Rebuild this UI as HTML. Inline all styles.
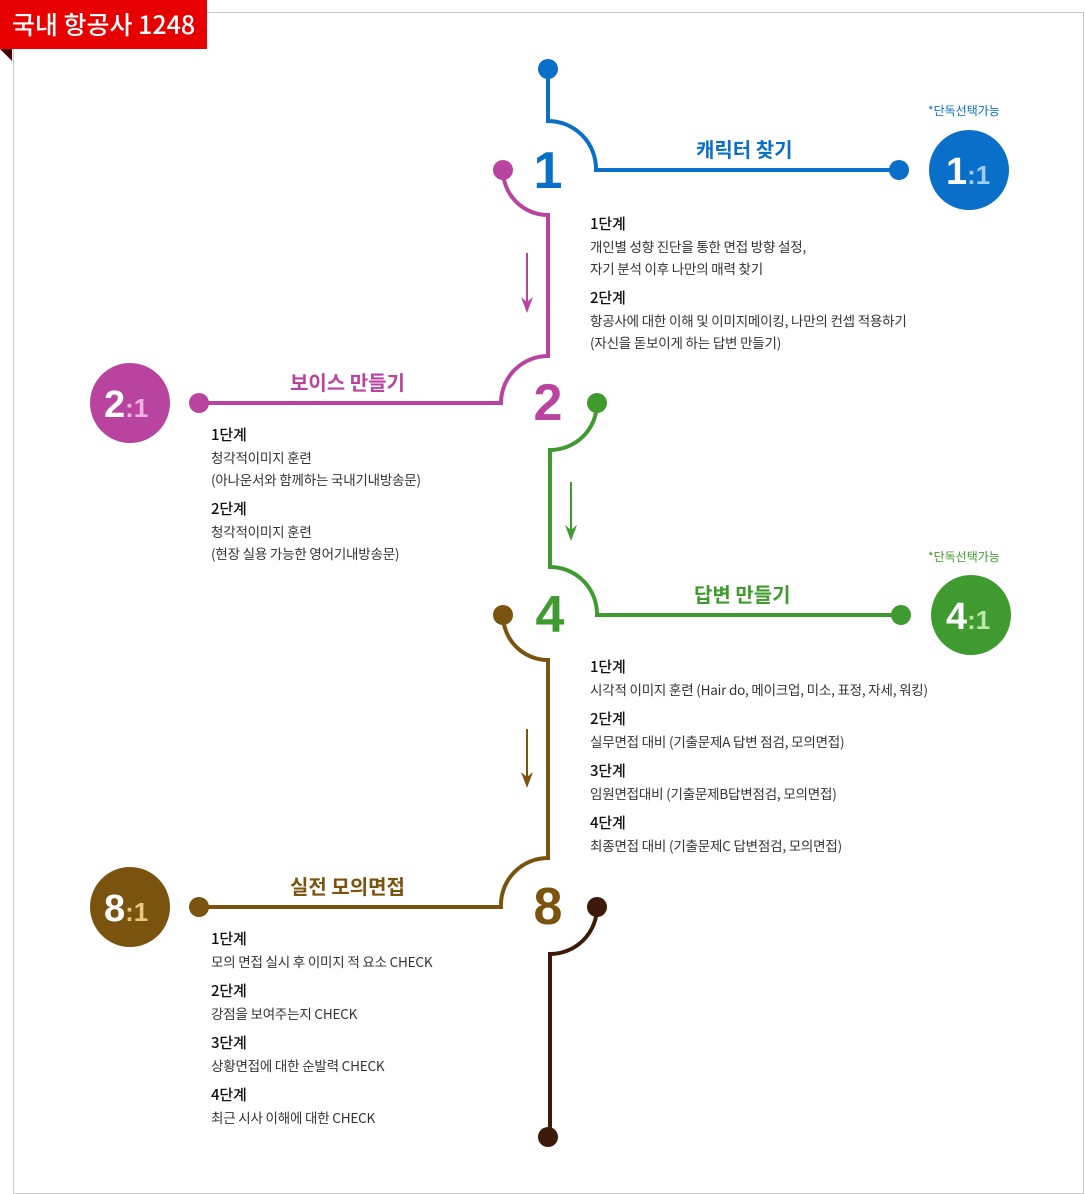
<!DOCTYPE html>
<html><head><meta charset="utf-8"><style>
body{margin:0;background:#fff;width:1085px;height:1194px;position:relative;overflow:hidden;font-family:"Liberation Sans","Noto Sans CJK KR",sans-serif}
.frame{position:absolute;left:13px;top:12px;width:1069px;height:1180px;border:1px solid #c8c8c8}
.badge{position:absolute;left:0;top:0;width:207px;height:49px;background:#e60000;color:#fff;font-size:25px;font-weight:500;line-height:49px;text-align:center;font-family:"Noto Sans CJK KR",sans-serif}
.fold{position:absolute;left:0;top:49px;width:0;height:0;border-top:12px solid #4a0000;border-left:12px solid transparent}
.t{position:absolute;font-family:"Noto Sans CJK KR",sans-serif;color:#333;font-size:13.5px;line-height:22px;letter-spacing:-0.2px;white-space:nowrap}
.t b{display:block;font-weight:500;color:#111;font-size:15px;margin-top:8px}
.t b:first-child{margin-top:0}
.lbl{position:absolute;font-family:"Noto Sans CJK KR",sans-serif;font-weight:700;font-size:20px;white-space:nowrap}
.sm{position:absolute;font-family:"Noto Sans CJK KR",sans-serif;font-size:12px;white-space:nowrap}
</style></head><body>
<div class="frame"></div>
<div class="badge">국내 항공사 1248</div>
<div class="fold"></div>
<svg width="1085" height="1194" style="position:absolute;left:0;top:0" font-family="Liberation Sans, sans-serif">
<g fill="none" stroke-width="4">
<path d="M548,69 V121 A48,48 0 0 1 596,170 H900" stroke="#0a6fc9"/>
<path d="M503,170 A45,45 0 0 0 548,215 V356 A47,47 0 0 0 501,403 H199" stroke="#b9449f"/>
<path d="M597,403 A47,47 0 0 1 550,450 V567 A47,47 0 0 1 597,615 H901" stroke="#3f9a2f"/>
<path d="M503,615 A45,45 0 0 0 548,660 V858 A47,47 0 0 0 501,907 H199" stroke="#7a530e"/>
<path d="M597,907 A47,47 0 0 1 550,954 V1137" stroke="#3e1a0a"/>
</g>
<g stroke-width="2">
<path d="M527,253 V305" stroke="#b9449f"/><path d="M521,297 L527,313 L533,297 L527,302Z" fill="#b9449f"/>
<path d="M571,482 V533" stroke="#3f9a2f"/><path d="M565,525 L571,541 L577,525 L571,530Z" fill="#3f9a2f"/>
<path d="M527,729 V780" stroke="#7a530e"/><path d="M521,772 L527,788 L533,772 L527,777Z" fill="#7a530e"/>
</g>
<circle cx="548" cy="69" r="10" fill="#0a6fc9"/><circle cx="899" cy="170" r="10" fill="#0a6fc9"/>
<circle cx="503" cy="170" r="10" fill="#b9449f"/><circle cx="199" cy="403" r="10" fill="#b9449f"/>
<circle cx="597" cy="403" r="10" fill="#3f9a2f"/><circle cx="901" cy="615" r="10" fill="#3f9a2f"/>
<circle cx="503" cy="615" r="10" fill="#7a530e"/><circle cx="199" cy="907" r="10" fill="#7a530e"/>
<circle cx="597" cy="907" r="10" fill="#3e1a0a"/><circle cx="548" cy="1137" r="10" fill="#3e1a0a"/>
<circle cx="969" cy="170" r="40" fill="#0a6fc9"/>
<circle cx="130" cy="403" r="40" fill="#b9449f"/>
<circle cx="971" cy="615" r="40" fill="#3f9a2f"/>
<circle cx="130" cy="907" r="40" fill="#7a530e"/>
<g font-weight="bold" font-size="38" fill="#fff">
<text x="946" y="184">1<tspan font-size="26" fill="#9fcdf3">:1</tspan></text>
<text x="104" y="417">2<tspan font-size="26" fill="#f0b3e0">:1</tspan></text>
<text x="946" y="629">4<tspan font-size="26" fill="#bfe6a8">:1</tspan></text>
<text x="104" y="921">8<tspan font-size="26" fill="#e8c77f">:1</tspan></text>
</g>
<g font-weight="bold" font-size="52" text-anchor="middle">
<text x="548" y="188" fill="#0a6fc9">1</text>
<text x="548" y="420" fill="#b9449f">2</text>
<text x="550" y="632" fill="#3f9a2f">4</text>
<text x="548" y="924" fill="#7a530e">8</text>
</g>
</svg>
<div class="sm" style="left:928px;top:102px;color:#0a6fc9">*단독선택가능</div>
<div class="sm" style="left:928px;top:548px;color:#3f9a2f">*단독선택가능</div>
<div class="lbl" style="left:696px;top:134px;color:#0a6fc9">캐릭터 찾기</div>
<div class="lbl" style="left:290px;top:367px;color:#b9449f">보이스 만들기</div>
<div class="lbl" style="left:694px;top:579px;color:#3f9a2f">답변 만들기</div>
<div class="lbl" style="left:290px;top:871px;color:#7a530e">실전 모의면접</div>
<div class="t" style="left:590px;top:213px"><b>1단계</b>개인별 성향 진단을 통한 면접 방향 설정,<br>자기 분석 이후 나만의 매력 찾기<b>2단계</b>항공사에 대한 이해 및 이미지메이킹, 나만의 컨셉 적용하기<br>(자신을 돋보이게 하는 답변 만들기)</div>
<div class="t" style="left:211px;top:424px"><b>1단계</b>청각적이미지 훈련<br>(아나운서와 함께하는 국내기내방송문)<b>2단계</b>청각적이미지 훈련<br>(현장 실용 가능한 영어기내방송문)</div>
<div class="t" style="left:590px;top:656px"><b>1단계</b>시각적 이미지 훈련 (Hair do, 메이크업, 미소, 표정, 자세, 워킹)<b>2단계</b>실무면접 대비 (기출문제A 답변 점검, 모의면접)<b>3단계</b>임원면접대비 (기출문제B답변점검, 모의면접)<b>4단계</b>최종면접 대비 (기출문제C 답변점검, 모의면접)</div>
<div class="t" style="left:211px;top:928px"><b>1단계</b>모의 면접 실시 후 이미지 적 요소 CHECK<b>2단계</b>강점을 보여주는지 CHECK<b>3단계</b>상황면접에 대한 순발력 CHECK<b>4단계</b>최근 시사 이해에 대한 CHECK</div>
</body></html>
